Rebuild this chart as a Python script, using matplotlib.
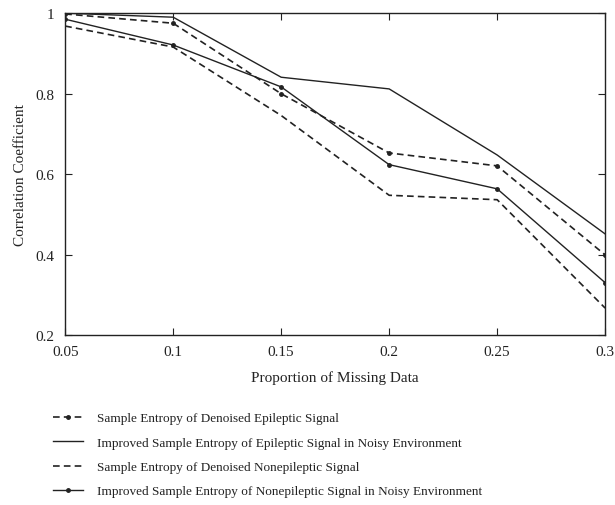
import matplotlib
matplotlib.use('Agg')
import matplotlib.pyplot as plt
from matplotlib.ticker import FuncFormatter

plt.rcParams['font.family'] = ['Liberation Serif', 'DejaVu Serif']

# proportion of missing data
proportion = [0.05, 0.1, 0.15, 0.2, 0.25, 0.3]

# correlation coefficients
se_denoised_epi = [0.998, 0.975, 0.800, 0.653, 0.621, 0.400]
ise_epi_noisy = [1.000, 0.990, 0.841, 0.812, 0.648, 0.452]
se_denoised_nonepi = [0.968, 0.916, 0.746, 0.548, 0.537, 0.268]
ise_nonepi_noisy = [0.985, 0.921, 0.817, 0.624, 0.564, 0.331]

labels = ['Sample Entropy of Denoised Epileptic Signal',
          'Improved Sample Entropy of Epileptic Signal in Noisy Environment',
          'Sample Entropy of Denoised Nonepileptic Signal',
          'Improved Sample Entropy of Nonepileptic Signal in Noisy Environment']

fig = plt.figure(figsize=(6.15, 5.06), dpi=100)
ax = fig.add_axes([0.106, 0.335, 0.878, 0.637])

ax.plot(proportion, se_denoised_epi, color='#222222', lw=1.2, ls=(0, (4, 2.5)),
        marker='o', ms=2.5, label=labels[0])
ax.plot(proportion, ise_epi_noisy, color='#222222', lw=1.0, label=labels[1])
ax.plot(proportion, se_denoised_nonepi, color='#222222', lw=1.2, ls=(0, (4, 2.5)),
        label=labels[2])
ax.plot(proportion, ise_nonepi_noisy, color='#222222', lw=1.0,
        marker='o', ms=2.5, label=labels[3])

ax.set_xlim(0.05, 0.3)
ax.set_ylim(0.2, 1.0)
ax.set_xticks(proportion)
ax.set_yticks([0.2, 0.4, 0.6, 0.8, 1.0])
fmt = FuncFormatter(lambda v, p: ('%g' % round(v, 2)))
ax.xaxis.set_major_formatter(fmt)
ax.yaxis.set_major_formatter(fmt)
ax.tick_params(direction='in', top=True, right=True, length=5, labelsize=11,
               colors='#222222')
ax.tick_params(axis='x', pad=7)
ax.tick_params(axis='y', pad=8)
for s in ax.spines.values():
    s.set_linewidth(1.0)
    s.set_color('#222222')

ax.set_xlabel('Proportion of Missing Data', fontsize=11, color='#222222',
              labelpad=9)
ax.set_ylabel('Correlation Coefficient', fontsize=11, color='#222222',
              labelpad=6)

fig.legend(loc='upper left', bbox_to_anchor=(0.067, 0.207), frameon=False,
           fontsize=9.5, handlelength=2.3, labelspacing=0.92, handletextpad=1.0,
           labelcolor='#222222')

fig.savefig('out.png', dpi=100)
